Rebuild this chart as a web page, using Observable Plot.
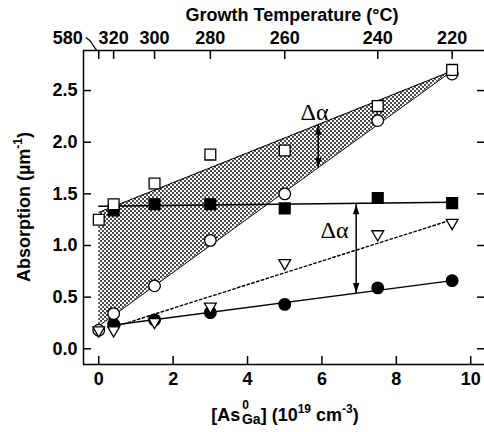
<!DOCTYPE html>
<html><head><meta charset="utf-8">
<script src="https://cdn.jsdelivr.net/npm/d3@7"></script>
<script src="https://cdn.jsdelivr.net/npm/@observablehq/plot@0.6"></script>
<style>body{margin:0;background:#fff}</style>
</head><body><div id="chart"></div>
<script>
// ---- data ----
const concX = [0, 0.4, 1.5, 3, 5, 7.5, 9.5];
const openSquares = [1.25, 1.40, 1.60, 1.88, 1.92, 2.35, 2.70];
const openCircles = [0.18, 0.34, 0.61, 1.05, 1.50, 2.21, 2.66];
const triangles   = [0.18, 0.18, 0.26, 0.41, 0.83, 1.11, 1.22];
const filledX = [0.4, 1.5, 3, 5, 7.5, 9.5];
const filledSquares = [1.34, 1.40, 1.40, 1.36, 1.46, 1.41];
const filledCircles = [0.24, 0.28, 0.35, 0.43, 0.59, 0.66];
const tempX = [0, 0.4, 1.5, 3, 5, 7.5, 9.5];
const tempLabels = ["580", "320", "300", "280", "260", "240", "220"];
const xTicks = [0, 2, 4, 6, 8, 10];
const yTicks = [0, 0.5, 1, 1.5, 2, 2.5];
// fitted lines / band edges (end points)
const bandX = [0, 9.5];
const bandUpper = [1.32, 2.69];
const bandLower = [0.22, 2.69];
const squareFitX = [0, 9.5], squareFitY = [1.38, 1.42];
const circleFitX = [0.3, 9.5], circleFitY = [0.225, 0.66];
const triFitX = [0.4, 9.5], triFitY = [0.21, 1.25];
// Δα arrows
const arrowX = [5.9, 6.92];
const arrowLow = [1.75, 0.54];
const arrowHigh = [2.17, 1.40];
const labelX = [5.8, 6.34];
const labelY = [2.29, 1.145];
const xDomain = [-0.41, 10.37];
const yDomain = [-0.152, 2.888];

// ---- tables ----
const pts = (xs, ys) => xs.map((x, i) => ({x, y: ys[i]}));
const band = bandX.map((x, i) => ({x, lo: bandLower[i], hi: bandUpper[i]}));
const arrows = arrowX.map((x, i) => ({x, y1: arrowLow[i], y2: arrowHigh[i], lx: labelX[i], ly: labelY[i]}));

const headUp = {draw(c){ c.moveTo(0,0); c.lineTo(3.2,10); c.lineTo(-3.2,10); c.closePath(); }};
const headDown = {draw(c){ c.moveTo(0,0); c.lineTo(3.2,-10); c.lineTo(-3.2,-10); c.closePath(); }};
const slash = {draw(c){ c.moveTo(-13,-13); c.lineTo(-9,-10); c.lineTo(-2,0); }};

const sym = {stroke: "black", strokeWidth: 1.3};
const svg = Plot.plot({
  width: 484, height: 432,
  marginTop: 50, marginBottom: 68, marginLeft: 83, marginRight: 0,
  x: {domain: xDomain},
  y: {domain: yDomain},
  style: {fontFamily: "'Liberation Sans', Arial, sans-serif", fontSize: "18px", fontWeight: "bold", color: "black", background: "white"},
  marks: [
    Plot.areaY(band, {x: "x", y1: "lo", y2: "hi", fill: "url(#stipple)"}),
    Plot.line(band, {x: "x", y: "hi", stroke: "black", strokeWidth: 1}),
    Plot.line(band, {x: "x", y: "lo", stroke: "black", strokeWidth: 1}),
    Plot.line(pts(squareFitX, squareFitY), {x: "x", y: "y", stroke: "black", strokeWidth: 1.5}),
    Plot.line(pts(circleFitX, circleFitY), {x: "x", y: "y", stroke: "black", strokeWidth: 1.5}),
    Plot.line(pts(triFitX, triFitY), {x: "x", y: "y", stroke: "black", strokeWidth: 1.4, strokeDasharray: "2.5,2.5"}),
    Plot.link(arrows, {x1: "x", x2: "x", y1: "y1", y2: "y2", stroke: "black", strokeWidth: 1.5}),
    Plot.dot(arrows, {x: "x", y: "y2", symbol: headUp, fill: "black", stroke: null}),
    Plot.dot(arrows, {x: "x", y: "y1", symbol: headDown, fill: "black", stroke: null}),
    Plot.text(arrows, {x: "lx", y: "ly", text: () => "Δα", fontFamily: "'Liberation Serif', 'Times New Roman', serif", fontWeight: "normal", fontSize: 24}),
    Plot.dot(pts(filledX, filledCircles), {x: "x", y: "y", r: 5.8, fill: "black", ...sym}),
    Plot.dot(pts(concX, openCircles), {x: "x", y: "y", r: 5.8, fill: "white", ...sym}),
    Plot.dot(pts(concX, triangles), {x: "x", y: "y", symbol: "triangle", rotate: 180, r: 4.4, fill: "white", ...sym}),
    Plot.dot(pts(filledX, filledSquares), {x: "x", y: "y", symbol: "square", r: 6.1, fill: "black", ...sym}),
    Plot.dot(pts(concX, openSquares), {x: "x", y: "y", symbol: "square", r: 6.1, fill: "white", ...sym}),
    // axes (inward ticks)
    Plot.axisY(yTicks, {anchor: "left", tickSize: -8, tickPadding: 14, strokeWidth: 1.5, tickFormat: d3.format(".1f"), label: null}),
    Plot.axisY(yTicks, {anchor: "right", tickSize: -8, strokeWidth: 1.5, tickFormat: () => "", label: null}),
    Plot.axisX(xTicks, {anchor: "bottom", tickSize: -8, tickPadding: 16, strokeWidth: 1.5, tickFormat: d3.format("d"), label: null}),
    Plot.axisX(tempX, {anchor: "top", tickSize: -8, tickPadding: 15, strokeWidth: 1.5, tickFormat: d => d === tempX[0] ? "" : tempLabels[tempX.indexOf(d)], label: null}),
    Plot.text([{x: tempX[0], t: tempLabels[0]}], {x: "x", text: "t", frameAnchor: "top", dx: -31, dy: -7, lineAnchor: "bottom"}),
    Plot.dot([{x: tempX[0]}], {x: "x", frameAnchor: "top", symbol: slash, fill: "none", stroke: "black", strokeWidth: 1.3}),
    // frame (left, top, bottom)
    Plot.ruleX([xDomain[0]], {stroke: "black", strokeWidth: 1.5}),
    Plot.ruleY([yDomain[0]], {stroke: "black", strokeWidth: 1.5}),
    Plot.ruleY([yDomain[1]], {stroke: "black", strokeWidth: 1.5})
  ]
});

// stipple pattern for the shaded band
const defs = d3.select(svg).insert("defs", ":first-child");
const pat = defs.append("pattern").attr("id", "stipple").attr("patternUnits", "userSpaceOnUse").attr("width", 4).attr("height", 4);
pat.append("rect").attr("width", 4).attr("height", 4).attr("fill", "white");
pat.append("rect").attr("x", 0).attr("y", 0).attr("width", 2).attr("height", 2).attr("fill", "#4a4a4a");
pat.append("rect").attr("x", 2).attr("y", 2).attr("width", 2).attr("height", 2).attr("fill", "#4a4a4a");

// axis titles (with super/subscripts)
const s = d3.select(svg);
s.append("text").attr("x", 292).attr("y", 21).attr("text-anchor", "middle")
  .attr("font-size", 18).attr("font-weight", "bold").text("Growth Temperature (°C)");
const yt = s.append("text").attr("transform", "translate(30,207) rotate(-90)").attr("text-anchor", "middle")
  .attr("font-size", 18).attr("font-weight", "bold");
yt.append("tspan").text("Absorption (µm");
yt.append("tspan").attr("font-size", 12).attr("dy", -8).text("-1");
yt.append("tspan").attr("dy", 8).text(")");
const xt = s.append("text").attr("x", 285).attr("y", 421).attr("text-anchor", "middle")
  .attr("font-size", 18).attr("font-weight", "bold");
xt.append("tspan").text("[As");
xt.append("tspan").attr("font-size", 12).attr("dx", 2).attr("dy", -12).text("0");
xt.append("tspan").attr("font-size", 14).attr("dx", -7).attr("dy", 15).text("Ga");
xt.append("tspan").attr("dy", -3).text("] (10");
xt.append("tspan").attr("font-size", 12).attr("dy", -8).text("19");
xt.append("tspan").attr("dy", 8).text(" cm");
xt.append("tspan").attr("font-size", 12).attr("dy", -8).text("-3");
xt.append("tspan").attr("dy", 8).text(")");

document.getElementById("chart").append(svg);
</script>
</body></html>
